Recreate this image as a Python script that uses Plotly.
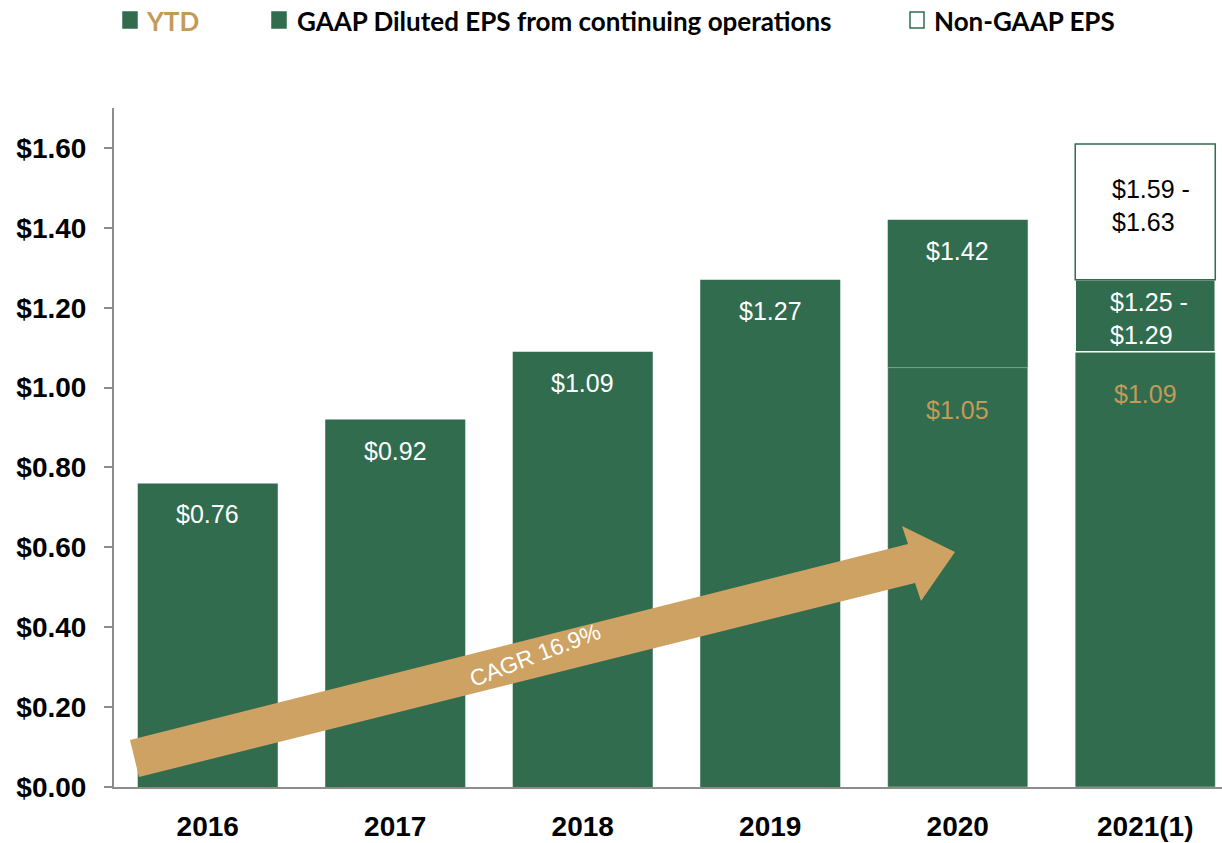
import plotly.graph_objects as go

# ---------------- data ----------------
years = ["2016", "2017", "2018", "2019", "2020", "2021(1)"]
gaap_eps = [0.76, 0.92, 1.09, 1.27, 1.42, 1.27]          # top of GAAP bar
ytd_eps = [None, None, None, None, 1.05, 1.09]            # YTD portion
nongaap_top = [None, None, None, None, None, 1.61]        # top of Non-GAAP range box
gaap_labels = ["$0.76", "$0.92", "$1.09", "$1.27", "$1.42", "$1.25 -<br>$1.29"]
ytd_labels = [None, None, None, None, "$1.05", "$1.09"]
nongaap_labels = [None, None, None, None, None, "$1.59 -<br>$1.63"]
y_tickvals = [0.0, 0.2, 0.4, 0.6, 0.8, 1.0, 1.2, 1.4, 1.6]
y_ticktext = ["$0.00", "$0.20", "$0.40", "$0.60", "$0.80", "$1.00", "$1.20", "$1.40", "$1.60"]
cagr_label = "CAGR 16.9%"
legend_names = ["YTD", "GAAP Diluted EPS from continuing operations", "Non-GAAP EPS"]

# ---------------- style ----------------
GREEN = "#316C4F"
GOLD = "#CDA262"
GOLD_TXT = "#C49A58"
AXIS = "#8C8C8C"
W, H = 1222, 843
# plot area in screen pixels: x 114..1222, y 108..787
ML, MT, MR = 114, 108, 0
MB = H - 787
PW, PH = W - ML - MR, H - MT - MB
LEGFONT = "Lato, Liberation Sans, sans-serif"
SANS = "Liberation Sans, Arial, sans-serif"

def px(x):  # screen pixel -> paper
    return (x - ML) / PW

def py(y):
    return (MT + PH - y) / PH

fig = go.Figure()

idx = list(range(len(years)))
gaap_base = [t if t is not None else 0 for t in ytd_eps]
gaap_h = [g - b for g, b in zip(gaap_eps, gaap_base)]
ng_h = [(n - g) if n is not None else None for n, g in zip(nongaap_top, gaap_eps)]

fig.add_trace(go.Bar(
    x=years, y=ytd_eps, name=legend_names[0], showlegend=False,
    marker=dict(color=GREEN, line=dict(color="rgba(255,255,255,0.35)", width=1)),
    hoverinfo="skip"))
fig.add_trace(go.Bar(
    x=years, y=gaap_h, base=gaap_base, name=legend_names[1], showlegend=False,
    marker=dict(color=GREEN, line=dict(color=["rgba(0,0,0,0)"] * 5 + ["white"], width=[0, 0, 0, 0, 0, 1.5])),
    hoverinfo="skip"))
fig.add_trace(go.Bar(
    x=years, y=ng_h, base=gaap_eps, name=legend_names[2], showlegend=False,
    marker=dict(color="white", line=dict(color=GREEN, width=1.5)),
    hoverinfo="skip"))

annotations = []
# data labels (positioned through the category index / value scales)
for i, lab in zip(idx, gaap_labels):
    if "<br>" in lab:
        annotations.append(dict(x=i, y=gaap_eps[i], xref="x", yref="y", text=lab, showarrow=False,
                                xanchor="left", yanchor="middle", align="left", xshift=-37, yshift=-39,
                                font=dict(family=SANS, size=25, color="white")))
    else:
        annotations.append(dict(x=i, y=gaap_eps[i], xref="x", yref="y", text=lab, showarrow=False,
                                xanchor="center", yanchor="middle", yshift=-31,
                                font=dict(family=SANS, size=25, color="white")))
for i, lab in zip(idx, ytd_labels):
    if lab:
        annotations.append(dict(x=i, y=ytd_eps[i], xref="x", yref="y", text=lab, showarrow=False,
                                xanchor="center", yanchor="middle", yshift=-42,
                                font=dict(family=SANS, size=25, color=GOLD_TXT)))
for i, lab in zip(idx, nongaap_labels):
    if lab:
        annotations.append(dict(x=i, y=nongaap_top[i], xref="x", yref="y", text=lab, showarrow=False,
                                xanchor="left", yanchor="middle", align="left", xshift=-35, yshift=-62,
                                font=dict(family=SANS, size=25, color="black")))

# CAGR arrow (decorative)
pts = [(130, 740), (908, 544), (902, 526), (955, 552), (921, 601), (915, 583), (139, 777)]
path = "M " + " L ".join(f"{px(a):.5f},{py(b):.5f}" for a, b in pts) + " Z"
shapes = [dict(type="path", xref="paper", yref="paper", path=path, fillcolor=GOLD, line=dict(width=0))]
annotations.append(dict(x=px(535), y=py(655), xref="paper", yref="paper", text=cagr_label, showarrow=False,
                        xanchor="center", yanchor="middle",
                        textangle=-21, font=dict(family=SANS, size=23, color="white")))

# manual legend
leg_items = [(123, GREEN, GREEN, GOLD_TXT, 144), (272, GREEN, GREEN, "black", 295), (910, "white", GREEN, "black", 932)]
for (sx, fill, edge, tcol, tx), name in zip(leg_items, legend_names):
    shapes.append(dict(type="rect", xref="paper", yref="paper", x0=px(sx), x1=px(sx + 14),
                       y0=py(28), y1=py(12), fillcolor=fill, line=dict(color=edge, width=1.5)))
    annotations.append(dict(x=px(tx), y=py(21), xref="paper", yref="paper", text=name, showarrow=False,
                            xanchor="left", yanchor="middle",
                            font=dict(family=LEGFONT, size=26, color=tcol, weight="bold")))

fig.update_layout(
    width=W, height=H,
    margin=dict(l=ML, r=MR, t=MT, b=MB, pad=0, autoexpand=False),
    paper_bgcolor="white", plot_bgcolor="white",
    barmode="overlay", bargap=0.253,
    showlegend=False,
    shapes=shapes, annotations=annotations,
    xaxis=dict(type="category", range=[-0.5, -0.5 + PW / 187.5], showgrid=False, showline=True, linecolor=AXIS,
               linewidth=2, ticks="", tickfont=dict(family=SANS, size=28, color="black", weight="bold"),
               ticklabelstandoff=13, automargin=False, fixedrange=True),
    yaxis=dict(range=[0, 1.70], tickvals=y_tickvals, ticktext=y_ticktext, showgrid=False, zeroline=False,
               showline=True, linecolor=AXIS, linewidth=2, ticks="outside", ticklen=8, tickcolor=AXIS, tickwidth=2,
               tickfont=dict(family=SANS, size=28, color="black", weight="bold"), ticklabelstandoff=12,
               automargin=False, fixedrange=True),
)

fig.write_html("out.html", config={"displayModeBar": False},
               post_script="document.body.style.margin='0';document.body.style.overflow='hidden';")
